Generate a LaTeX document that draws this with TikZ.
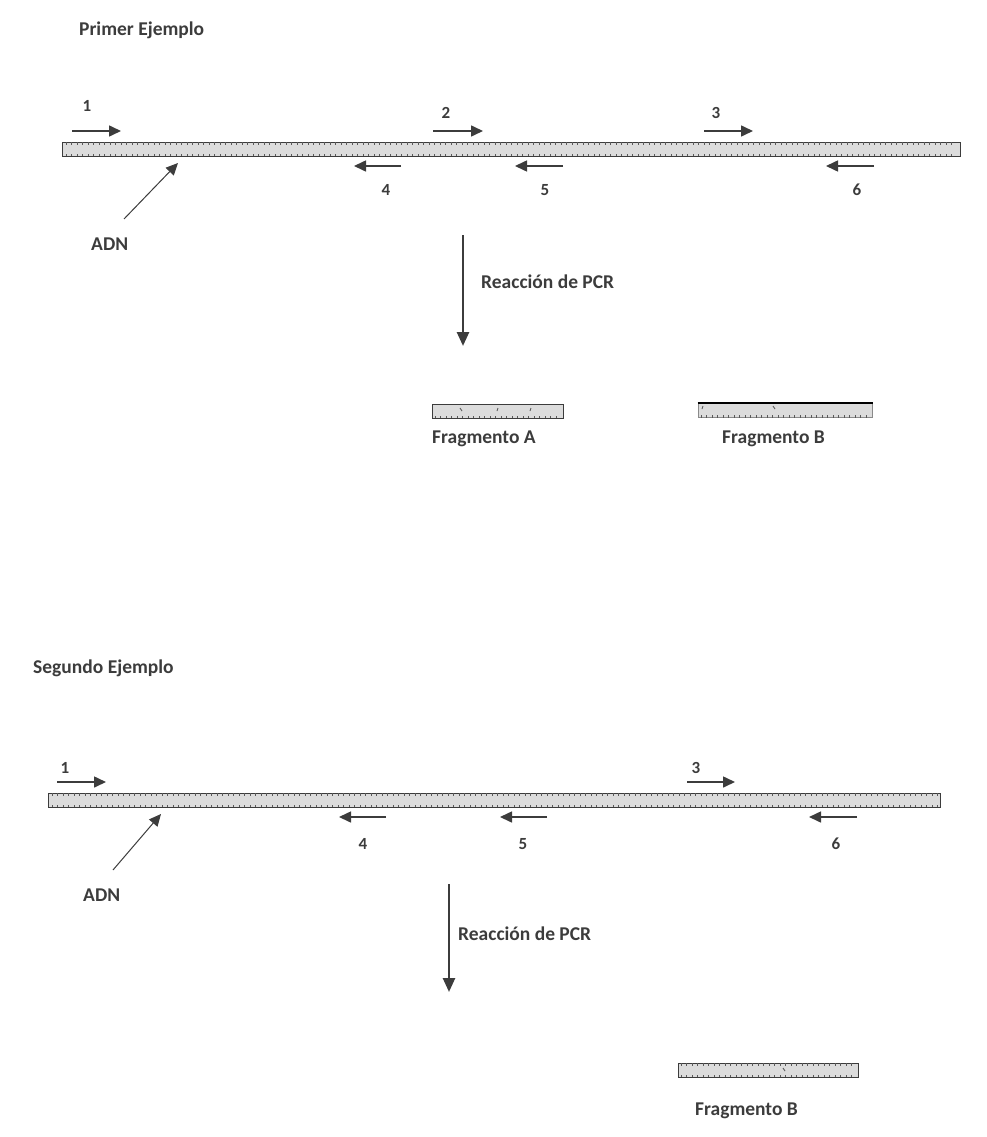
\documentclass[tikz,border=0pt]{standalone}
\usepackage{fontspec}
\setmainfont{Carlito}
\usetikzlibrary{arrows.meta}
\definecolor{ink}{HTML}{3C3C3C}
\definecolor{barfill}{HTML}{DCDCDC}
\tikzset{
  lbl/.style={font=\bfseries\fontsize{19.5}{22}\selectfont, text=ink, inner sep=0pt, anchor=base west},
  num/.style={font=\bfseries\fontsize{17}{19}\selectfont, text=ink, inner sep=0pt, anchor=base},
  primer/.style={draw=ink, line width=1.6pt, -{Triangle[length=12pt,width=11pt]}},
  pcr/.style={draw=ink, line width=2.6pt, -{Triangle[length=14pt,width=12pt]}},
  pointer/.style={draw=ink, line width=1pt, -{Triangle[length=12pt,width=11pt]}},
  dnabar/.style={draw=ink, line width=1pt, fill=barfill, minimum height=14pt, inner sep=0pt},
  tick/.style={draw=ink!85, line width=0.6pt}
}
% #1 = start x, #2 = number of ticks, #3 = top y (bar height 14)
\newcommand{\dnaticks}[3]{%
  \foreach \k in {0,...,#2} {
    \draw[tick] ({#1+\k*5.5},#3) -- ({#1+\k*5.5},{#3+2.5});
    \draw[tick] ({#1+\k*5.5},{#3+14}) -- ({#1+\k*5.5},{#3+11.5});
  }}
\newcommand{\bottomticks}[3]{%
  \foreach \k in {0,...,#2} {
    \draw[tick] ({#1+\k*5.5},{#3+14}) -- ({#1+\k*5.5},{#3+11.5});
  }}
\begin{document}
\begin{tikzpicture}[x=1pt,y=-1pt]
\useasboundingbox (0,0) rectangle (986,1137);
% ---------------- Primer ejemplo ----------------
\node[lbl] (t1) at (79,36) {Primer Ejemplo};
\node[dnabar, minimum width=898pt] (dna1) at (511,149) {};
\dnaticks{66}{161}{142}
\node[num] (n1) at (87,112) {1};
\node[num] (n2) at (446,118) {2};
\node[num] (n3) at (716,118) {3};
\node[num] (n4) at (386,195) {4};
\node[num] (n5) at (545,195) {5};
\node[num] (n6) at (857,195) {6};
\coordinate (p1s) at (72,131); \coordinate (p1e) at (121,131);
\coordinate (p2s) at (433,131); \coordinate (p2e) at (483,131);
\coordinate (p3s) at (704,131); \coordinate (p3e) at (753,131);
\coordinate (p4s) at (401,166); \coordinate (p4e) at (354,166);
\coordinate (p5s) at (563,166); \coordinate (p5e) at (515,166);
\coordinate (p6s) at (874,166); \coordinate (p6e) at (826,166);
\foreach \p in {1,...,6} {\draw[primer] (p\p s) -- (p\p e);}
\node[lbl] (adn1) at (91,250) {ADN};
\coordinate (ptr1) at (124,219);
\coordinate (ptr1e) at (178,163);
\draw[pointer] (ptr1) -- (ptr1e);
\coordinate (pcr1s) at (463,235); \coordinate (pcr1e) at (463,346);
\draw[pcr] (pcr1s) -- (pcr1e);
\node[lbl] (r1) at (481,288) {Reacción de PCR};
\node[dnabar, minimum width=131pt] (fa1) at (497.5,411) {};
\bottomticks{435}{22}{404}
\draw[tick, line width=0.9pt] (460,408) -- (462,411);
\draw[tick, line width=0.9pt] (497,411) -- (498,408);
\draw[tick, line width=0.9pt] (530,411) -- (531,408);
\node[lbl] (la1) at (432,443) {Fragmento A};
\node[dnabar, draw=ink!60, minimum width=174pt] (fb1) at (785,410.5) {};
\draw[black, line width=2.2pt] (fb1.north west) -- (fb1.north east);
\bottomticks{701}{30}{403.5}
\draw[tick, line width=0.9pt] (702,409) -- (703,406);
\draw[tick, line width=0.9pt] (773,406) -- (775,409);
\node[lbl] (lb1) at (722,443) {Fragmento B};
% ---------------- Segundo ejemplo ----------------
\node[lbl] (t2) at (33,673) {Segundo Ejemplo};
\node[dnabar, minimum width=892pt] (dna2) at (494,800) {};
\dnaticks{52}{161}{793}
\node[num] (m1) at (65,773) {1};
\node[num] (m3) at (696,773) {3};
\node[num] (m4) at (363,849) {4};
\node[num] (m5) at (523,849) {5};
\node[num] (m6) at (836,849) {6};
\coordinate (q1s) at (57,782); \coordinate (q1e) at (106,782);
\coordinate (q3s) at (687,782); \coordinate (q3e) at (735,782);
\coordinate (q4s) at (386,817); \coordinate (q4e) at (339,817);
\coordinate (q5s) at (547,817); \coordinate (q5e) at (500,817);
\coordinate (q6s) at (857,817); \coordinate (q6e) at (809,817);
\foreach \p in {1,3,4,5,6} {\draw[primer] (q\p s) -- (q\p e);}
\node[lbl] (adn2) at (83,901) {ADN};
\coordinate (ptr2) at (113,870);
\coordinate (ptr2e) at (161,814);
\draw[pointer] (ptr2) -- (ptr2e);
\coordinate (pcr2s) at (449,884); \coordinate (pcr2e) at (449,992);
\draw[pcr] (pcr2s) -- (pcr2e);
\node[lbl] (r2) at (458,940) {Reacción de PCR};
\node[dnabar, minimum width=180pt] (fb2) at (768,1070) {};
\dnaticks{681}{31}{1063}
\draw[tick, line width=0.9pt] (783,1068) -- (785,1071);
\node[lbl] (lb2) at (695,1115) {Fragmento B};
\end{tikzpicture}
\end{document}
